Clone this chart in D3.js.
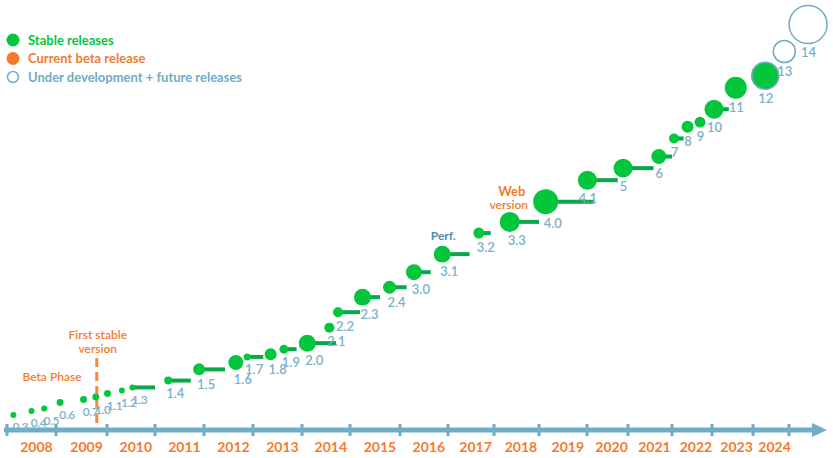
<!DOCTYPE html>
<html>
<head>
<meta charset="utf-8">
<script src="https://cdn.jsdelivr.net/npm/d3@7"></script>
<style>
  body { margin: 0; background: #fff; }
  svg { display: block; font-family: "Lato", "Noto Sans", sans-serif; }
</style>
</head>
<body>
<svg width="833" height="458"></svg>
<script>
// release data
const versions = ["0.3","0.4","0.5","0.6","0.7","1.0","1.1","1.2","1.3","1.4","1.5","1.6","1.7","1.8","1.9","2.0","2.1","2.2","2.3","2.4","3.0","3.1","3.2","3.3","4.0","4.1","5","6","7","8","9","10","11","12","13","14"];
const released = [2008.13,2008.50,2008.76,2009.08,2009.54,2009.78,2010.01,2010.31,2010.53,2011.27,2011.90,2012.65,2012.88,2013.36,2013.63,2014.11,2014.57,2014.75,2015.25,2015.79,2016.29,2016.88,2017.67,2018.35,2019.14,2020.01,2020.88,2021.70,2022.05,2022.39,2022.70,2023.05,2023.58,2024.34,2024.87,2025.53];
const level = [3.5,4.4,5.0,6.4,7.1,7.7,8.5,9.2,9.9,11.5,14.1,15.7,17.0,17.6,18.8,20.2,23.8,27.4,30.9,33.2,36.7,40.9,45.8,48.4,53.1,58.1,60.9,63.6,67.8,70.5,71.6,74.6,79.6,82.4,88.0,94.3];
const size = [9,9,9,12,12,12,12,9,9,16,36,56,12,36,20,72,25,25,72,42,64,72,30,100,156,90,90,56,25,36,30,90,121,182,121,361];
const supportEnd = [null,null,null,null,null,null,null,null,2011.00,2011.73,2012.43,null,2013.21,null,2013.89,2014.71,null,2015.20,2015.60,2016.14,2016.64,2017.47,2017.93,2019.00,2020.18,2020.75,2021.58,2022.00,2022.29,null,null,2023.41,null,null,null,null];
const status = versions.map(v => v === "13" || v === "14" ? "future" : v === "12" ? "latest" : "stable");
const years = d3.range(2008, 2025);

const legendItems = ["Stable releases", "Current beta release", "Under development + future releases"];

const svg = d3.select("svg");

const green = "#03c63c", barGreen = "#0aa64c", orange = "#f47b2c", blue = "#72abc5", labelBlue = "#7ab0c9";

// year boundaries are not evenly spaced on the original timeline
const x = d3.scaleLinear()
    .domain(d3.range(2008, 2026))
    .range([7,56,107,155,204,253,302,350,400,448,494,539,587,628,672,712,753,789]);
const y = d3.scaleLinear().domain([0, 100]).range([430, 0]);
const r = d3.scaleSqrt().domain([0, 400]).range([0, 20]);

const data = versions.map((v, i) => ({
    v, t: released[i], lvl: level[i], s: size[i], end: supportEnd[i], status: status[i]
}));

// axis
const axisY = y(0);
svg.append("line")
    .attr("x1", 4).attr("x2", 816)
    .attr("y1", axisY).attr("y2", axisY)
    .attr("stroke", blue).attr("stroke-width", 5);
svg.append("path")
    .attr("d", `M812,${axisY - 7}L827,${axisY}L812,${axisY + 7}Z`)
    .attr("fill", blue);
svg.selectAll("rect.tick")
    .data(d3.range(2008, 2026))
    .enter().append("rect")
    .attr("class", "tick")
    .attr("x", d => x(d) - 1.5)
    .attr("y", axisY - 6)
    .attr("width", 3).attr("height", 12)
    .attr("fill", blue);
svg.selectAll("text.year")
    .data(years)
    .enter().append("text")
    .attr("class", "year")
    .attr("x", d => x(d + 0.6))
    .attr("y", 452)
    .attr("text-anchor", "middle")
    .attr("fill", orange)
    .attr("font-size", 14)
    .attr("font-weight", "bold")
    .text(d => d);

// first stable marker
const first = data.find(d => d.v === "1.0");
const fx = x(first.t) + 1;
svg.append("line")
    .attr("x1", fx).attr("x2", fx)
    .attr("y1", 358).attr("y2", axisY - 2)
    .attr("stroke", "#f58a3d").attr("stroke-width", 3)
    .attr("stroke-dasharray", "9,5");
svg.append("text")
    .attr("x", fx + 1).attr("y", 339)
    .attr("text-anchor", "middle").attr("fill", orange)
    .attr("font-size", 12).attr("font-weight", 600)
    .text("First stable");
svg.append("text")
    .attr("x", fx + 1).attr("y", 353)
    .attr("text-anchor", "middle").attr("fill", orange)
    .attr("font-size", 12).attr("font-weight", 600)
    .text("version");
svg.append("text")
    .attr("x", 52).attr("y", 381)
    .attr("text-anchor", "middle").attr("fill", orange)
    .attr("font-size", 12).attr("font-weight", 600)
    .text("Beta Phase");

// support bars
svg.selectAll("line.bar")
    .data(data.filter(d => d.end !== null))
    .enter().append("line")
    .attr("class", "bar")
    .attr("x1", d => x(d.t)).attr("x2", d => x(d.end))
    .attr("y1", d => y(d.lvl)).attr("y2", d => y(d.lvl))
    .attr("stroke", barGreen).attr("stroke-width", 4);

// releases
svg.selectAll("circle.rel")
    .data(data)
    .enter().append("circle")
    .attr("class", "rel")
    .attr("cx", d => x(d.t))
    .attr("cy", d => y(d.lvl))
    .attr("r", d => r(d.s))
    .attr("fill", d => d.status === "future" ? "none" : green)
    .attr("stroke", d => d.status === "stable" ? "none" : blue)
    .attr("stroke-width", 1.5);

svg.selectAll("text.ver")
    .data(data)
    .enter().append("text")
    .attr("class", "ver")
    .attr("x", d => x(d.t) + (d.t < 2020 ? 7 : 0.5))
    .attr("y", d => y(d.lvl) + r(d.s) + 9)
    .attr("dy", "0.35em")
    .attr("text-anchor", "middle")
    .attr("fill", labelBlue)
    .attr("font-size", d => d.t < 2011 ? 12 : 13)
    .attr("letter-spacing", d => d.t < 2011 ? -0.4 : 0)
    .attr("font-weight", 600)
    .text(d => d.v);

// annotations
const perf = data.find(d => d.v === "3.1");
svg.append("text")
    .attr("x", x(perf.t) + 1).attr("y", y(perf.lvl) - 14)
    .attr("text-anchor", "middle").attr("fill", "#4f8db0")
    .attr("font-size", 12).attr("font-weight", "bold")
    .text("Perf.");
const web = data.find(d => d.v === "3.3");
svg.append("text")
    .attr("x", x(web.t) + 2).attr("y", y(web.lvl) - 26)
    .attr("text-anchor", "middle").attr("fill", orange)
    .attr("font-size", 13).attr("font-weight", "bold")
    .text("Web");
svg.append("text")
    .attr("x", x(web.t) - 1).attr("y", y(web.lvl) - 13)
    .attr("text-anchor", "middle").attr("fill", orange)
    .attr("font-size", 12).attr("font-weight", 600)
    .text("version");

// legend
const legendColors = [green, orange, blue];
const legend = svg.selectAll("g.leg")
    .data(legendItems)
    .enter().append("g")
    .attr("class", "leg")
    .attr("transform", (d, i) => `translate(13,${40 + i * 18.5})`);
legend.append("circle")
    .attr("r", (d, i) => i === 2 ? 5.5 : 6.5)
    .attr("fill", (d, i) => i === 2 ? "none" : legendColors[i])
    .attr("stroke", (d, i) => i === 2 ? blue : "none")
    .attr("stroke-width", 1.5);
legend.append("text")
    .attr("x", 15).attr("dy", "0.35em")
    .attr("fill", (d, i) => legendColors[i])
    .attr("font-size", 13).attr("font-weight", "bold")
    .text(d => d);
</script>
</body>
</html>
